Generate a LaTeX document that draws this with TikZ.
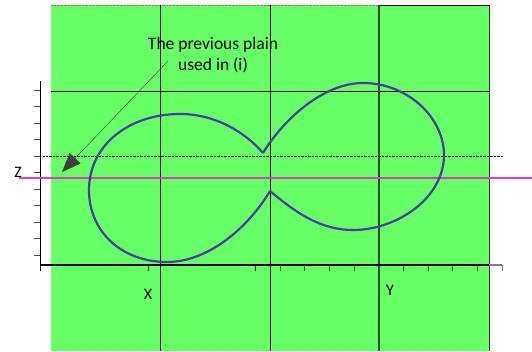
\documentclass[tikz,border=0pt]{standalone}
\usepackage{fontspec}
\setmainfont{Carlito}
\usepackage{xcolor}
\usepackage{tikz}
\usetikzlibrary{arrows.meta}
\definecolor{plainGreen}{RGB}{102,255,102}
\definecolor{curveBlue}{RGB}{72,60,165}
\definecolor{zMagenta}{RGB}{225,60,200}
\definecolor{darkLine}{RGB}{40,75,40}

\begin{document}
\begin{tikzpicture}[x=1pt,y=-1pt,>=stealth]
\useasboundingbox (0,0) rectangle (532,351);
%plain and grid
\fill[plainGreen](51,5) rectangle (489,351);
\draw[gray,densely dotted](51,5)--(379,5);
\draw[thick](379,5)--(489,5);
\draw[thick,black!80](489,5)--(489,351);
\draw[thick](51,91)--(489,91);
\draw[thick](160,5)--(160,351)
(270,5)--(270,351);
\draw[line width=1.4pt,darkLine](379,5)--(379,351);
\draw[densely dotted](43,156)--(503,156);
%axes
\draw[thick](40,81)--(40,265);
\draw[line width=1.4pt](40,265)--(489,265);
\draw[line width=1.4pt,gray](489,265)--(502,265);
\foreach \y in {0,...,10}
\draw[black!70](34,90+16.5*\y)--(40,90+16.5*\y);
\foreach \x in {40,148,255}
\draw(\x,265)--(\x,271);
\foreach \i in {1,...,9}
\draw[darkLine](255+24.7*\i,265)--(255+24.7*\i,271);
\draw[gray](502,265)--(502,271);
\node (zlab) at (18,172) {\fontsize{16}{16}\selectfont Z};
\node (xlab) at (148,294) {\fontsize{16}{16}\selectfont X};
\node (ylab) at (390,290) {\fontsize{16}{16}\selectfont Y};
%plane z
\draw[line width=2pt,zMagenta](19,178)--(532,178);
%curve
\draw[line width=2.2pt,curveBlue](263,153).. controls (245,132) and (215,114) ..(180,114)
.. controls (128,114) and (89,146) ..(89,190)
.. controls (89,232) and (122,262) ..(167,262)
.. controls (210,262) and (250,225) ..(270,191);
\draw[line width=2.2pt,curveBlue](270,191).. controls (295,212) and (320,230) ..(353,230)
.. controls (397,230) and (444,198) ..(444,155)
.. controls (444,118) and (408,83) ..(363,83)
.. controls (323,83) and (283,120) ..(263,153);
%note
\node[align=center,font=\fontsize{17.5}{21}\selectfont] (note) at (213,55) {The previous plain\\used in (i)};
\coordinate (start) at (168,61);
\coordinate (tip) at (62,172);
\draw[black!75,-{Triangle[length=19pt,width=15pt]}](start)--(tip);
\end{tikzpicture}
\end{document}
